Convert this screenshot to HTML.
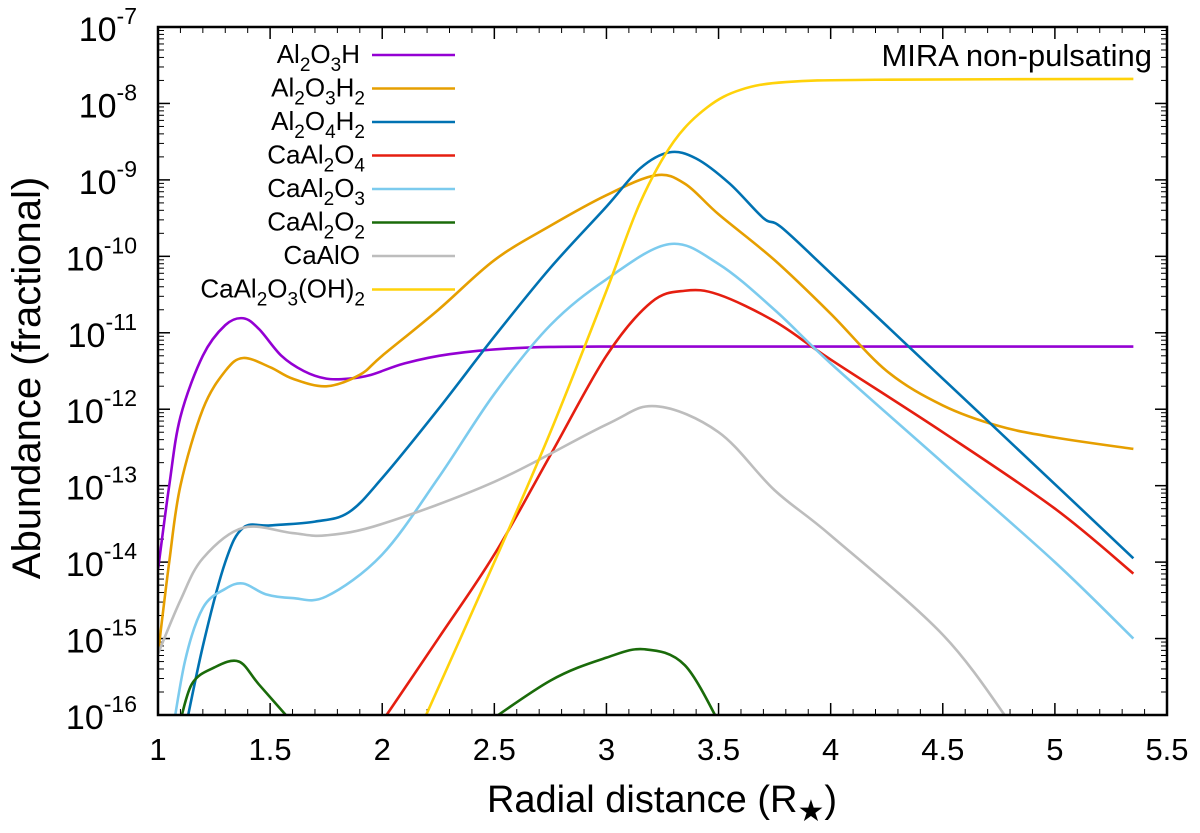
<!DOCTYPE html>
<html><head><meta charset="utf-8"><style>
body{margin:0;background:#fff;}
svg text{font-family:"Liberation Sans",sans-serif;fill:#000;}
</style></head><body>
<svg id="chart" width="1200" height="828" xmlns="http://www.w3.org/2000/svg">
<defs><clipPath id="clip"><rect x="158" y="27" width="1009" height="688"/></clipPath></defs>
<g id="ticks"></g>
<g id="series" clip-path="url(#clip)"></g>
<rect x="158" y="27" width="1009" height="688" fill="none" stroke="#000" stroke-width="2.5"/>
<g id="legend"></g>
<text x="1152" y="66" text-anchor="end" font-size="31">MIRA non-pulsating</text>
<text transform="translate(40,378) rotate(-90)" text-anchor="middle" font-size="40">Abundance (fractional)</text>
<text x="662" y="812" text-anchor="middle" font-size="38">Radial distance (R<tspan font-size="30" dy="9">★</tspan><tspan dy="-9">)</tspan></text>
</svg>
<script>
const xTicks=[1,1.5,2,2.5,3,3.5,4,4.5,5,5.5];
const yDecades=[-16,-15,-14,-13,-12,-11,-10,-9,-8,-7];
const names=["Al2O3H","Al2O3H2","Al2O4H2","CaAl2O4","CaAl2O3","CaAl2O2","CaAlO","CaAl2O3(OH)2"];
const colors=["#9400d3","#e69f00","#0072b2","#e51e10","#7ccbee","#1a6b0a","#bdbdbd","#ffd20a"];
const sAl2O3H=[[1,-14.1],[1.05,-13.0],[1.1,-12.1],[1.2,-11.3],[1.3,-10.9],[1.38,-10.81],[1.45,-10.95],[1.55,-11.3],[1.65,-11.5],[1.75,-11.6],[1.85,-11.6],[1.95,-11.55],[2.1,-11.4],[2.3,-11.28],[2.6,-11.2],[3,-11.18],[4,-11.18],[5.35,-11.18]];
const sAl2O3H2=[[1,-15.2],[1.05,-14.0],[1.1,-13.0],[1.2,-12.0],[1.3,-11.5],[1.38,-11.33],[1.5,-11.45],[1.6,-11.6],[1.75,-11.7],[1.9,-11.55],[2,-11.3],[2.25,-10.7],[2.5,-10.05],[2.75,-9.6],[3,-9.2],[3.22,-8.94],[3.35,-9.05],[3.5,-9.45],[3.75,-10.05],[4,-10.75],[4.25,-11.5],[4.5,-11.95],[4.75,-12.22],[5,-12.37],[5.35,-12.52]];
const sAl2O4H2=[[1.1,-16.5],[1.2,-15.1],[1.3,-14.0],[1.38,-13.55],[1.5,-13.52],[1.7,-13.47],[1.85,-13.35],[2,-12.9],[2.25,-12.0],[2.5,-11.05],[2.75,-10.15],[3,-9.35],[3.15,-8.85],[3.28,-8.64],[3.4,-8.72],[3.55,-9.05],[3.7,-9.5],[3.78,-9.62],[4,-10.22],[4.5,-11.6],[5,-12.98],[5.35,-13.95]];
const sCaAl2O4=[[1.95,-16.3],[2.25,-15.0],[2.5,-13.9],[2.75,-12.6],[3,-11.3],[3.2,-10.6],[3.35,-10.45],[3.5,-10.5],[3.75,-10.85],[4,-11.35],[4.5,-12.3],[5,-13.3],[5.35,-14.15]];
const sCaAl2O3=[[1.05,-16.5],[1.12,-15.3],[1.2,-14.6],[1.3,-14.35],[1.38,-14.28],[1.48,-14.42],[1.6,-14.47],[1.75,-14.45],[2,-13.9],[2.25,-12.9],[2.5,-11.8],[2.75,-10.9],[3,-10.3],[3.28,-9.84],[3.5,-10.1],[3.75,-10.7],[4,-11.4],[4.5,-12.7],[5,-14.0],[5.35,-15.0]];
const sCaAl2O2=[[1.09,-16.2],[1.15,-15.6],[1.25,-15.38],[1.36,-15.3],[1.45,-15.6],[1.6,-16.1],[2.42,-16.2],[2.75,-15.55],[3,-15.25],[3.17,-15.14],[3.35,-15.35],[3.52,-16.2]];
const sCaAlO=[[1,-15.2],[1.1,-14.5],[1.2,-13.95],[1.38,-13.55],[1.6,-13.62],[1.75,-13.65],[2,-13.5],[2.5,-12.95],[3,-12.2],[3.22,-11.96],[3.5,-12.3],[3.75,-13.06],[4,-13.65],[4.5,-14.95],[4.8,-16.1]];
const sYellow=[[2.15,-16.3],[2.5,-14.0],[2.75,-12.3],[3.0,-10.45],[3.15,-9.3],[3.3,-8.5],[3.45,-8.05],[3.6,-7.82],[3.8,-7.72],[4.2,-7.69],[5.35,-7.68]];
const allSeries=[sAl2O3H,sAl2O3H2,sAl2O4H2,sCaAl2O4,sCaAl2O3,sCaAl2O2,sCaAlO,sYellow];
const breaks=[null,null,null,null,null,6,null,null];
const NS="http://www.w3.org/2000/svg";
const X=v=>158+(v-1)*1009/4.5;
const Y=l=>27+(-7-l)*688/9;
function mk(t,a,p){const e=document.createElementNS(NS,t);for(const k in a)e.setAttribute(k,a[k]);p.appendChild(e);return e;}
const tk=document.getElementById('ticks');
xTicks.forEach((v,i)=>{
 const l=mk('line',{x1:X(v),x2:X(v),y1:715,y2:703,stroke:'#000','stroke-width':1.5},tk);
 
 const l2=mk('line',{x1:X(v),x2:X(v),y1:27,y2:39,stroke:'#000','stroke-width':1.5},tk);
 
 if(i<xTicks.length-1){const m=v+0.25;[m-0.15,m-0.05,m+0.05,m+0.15].forEach(mm=>{
  const a=mk('line',{x1:X(mm),x2:X(mm),y1:715,y2:709,stroke:'#000','stroke-width':1},tk);
  
  const b=mk('line',{x1:X(mm),x2:X(mm),y1:27,y2:33,stroke:'#000','stroke-width':1},tk);
  });}
 const t=mk('text',{x:X(v),y:760,'text-anchor':'middle','font-size':31},tk);t.textContent=String(v);
 
});
yDecades.forEach(d=>{
 [[158,170],[1167,1155]].forEach(([a,b])=>{const l=mk('line',{x1:a,x2:b,y1:Y(d),y2:Y(d),stroke:'#000','stroke-width':1.5},tk);
 });
 if(d<-7){for(let k=2;k<=9;k++){const yy=Y(d+Math.log10(k));[[158,164],[1167,1161]].forEach(([a,b])=>{
  const l=mk('line',{x1:a,x2:b,y1:yy,y2:yy,stroke:'#000','stroke-width':1},tk);
  });}}
 const t=mk('text',{x:137,y:Y(d)+14,'text-anchor':'end','font-size':34},tk);
 
 t.innerHTML='10<tspan dy="-17" font-size="23">'+d+'</tspan>';
});
function smooth(pts){let d='M'+X(pts[0][0])+','+Y(pts[0][1]);
 for(let i=0;i<pts.length-1;i++){const p0=pts[Math.max(0,i-1)],p1=pts[i],p2=pts[i+1],p3=pts[Math.min(pts.length-1,i+2)];
  const c1x=X(p1[0])+(X(p2[0])-X(p0[0]))/6,c1y=Y(p1[1])+(Y(p2[1])-Y(p0[1]))/6;
  const c2x=X(p2[0])-(X(p3[0])-X(p1[0]))/6,c2y=Y(p2[1])-(Y(p3[1])-Y(p1[1]))/6;
  d+=' C'+c1x+','+c1y+' '+c2x+','+c2y+' '+X(p2[0])+','+Y(p2[1]);}
 return d;}
const sg=document.getElementById('series');
allSeries.forEach((s,i)=>{
 const parts=breaks[i]?[s.slice(0,breaks[i]),s.slice(breaks[i])]:[s];
 parts.forEach(p=>{const e=mk('path',{d:smooth(p),fill:'none',stroke:colors[i],'stroke-width':2.6},sg);
 });
});
const lg=document.getElementById('legend');
const S=(c)=>'<tspan dy="8" font-size="19">'+c+'</tspan>';
const R=(c)=>'<tspan dy="-8">'+c+'</tspan>';
const labels=['Al'+S(2)+R('O')+S(3)+R('H'),
'Al'+S(2)+R('O')+S(3)+R('H')+S(2),
'Al'+S(2)+R('O')+S(4)+R('H')+S(2),
'CaAl'+S(2)+R('O')+S(4),
'CaAl'+S(2)+R('O')+S(3),
'CaAl'+S(2)+R('O')+S(2),
'CaAlO',
'CaAl'+S(2)+R('O')+S(3)+R('(OH)')+S(2)];
names.forEach((n,i)=>{const y=55+i*33.5;
 const t=mk('text',{x:i==0||i==6?360:365,y:y+8,'text-anchor':'end','font-size':26},lg);
 t.innerHTML=labels[i];
 
 const l=mk('line',{x1:372,x2:455,y1:y,y2:y,stroke:colors[i],'stroke-width':2.6},lg);
 
});
</script>
</body></html>
